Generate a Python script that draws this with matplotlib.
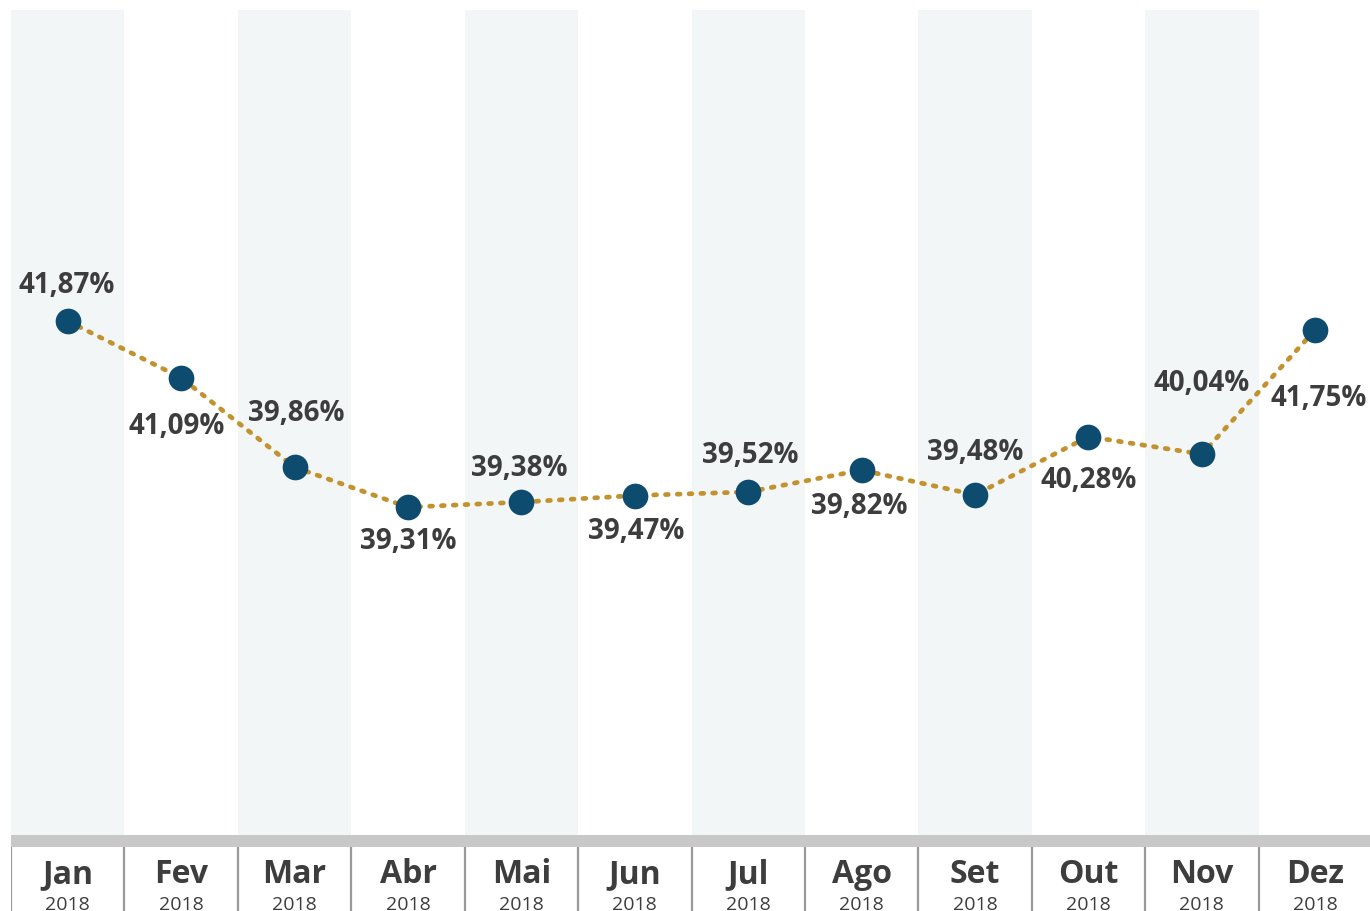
import numpy as np
import matplotlib.pyplot as plt

# Monthly values (%), 2018
months = ['Jan', 'Fev', 'Mar', 'Abr', 'Mai', 'Jun', 'Jul', 'Ago', 'Set', 'Out', 'Nov', 'Dez']
years = ['2018'] * 12
values = [41.87, 41.09, 39.86, 39.31, 39.38, 39.47, 39.52, 39.82, 39.48, 40.28, 40.04, 41.75]

# label offsets in pixels (dx, dy) relative to the point
offsets = [(-1, 37), (-4, -48), (2, 55), (0, -33), (-2, 35), (1, -35),
           (2, 37), (-2, -35), (0, 43), (0, -43), (0, 72), (3, -68)]

W, H = 1370, 912
fig = plt.figure(figsize=(W / 100, H / 100), dpi=100)
fig.patch.set_facecolor('white')

x0, x1 = 11, 1372
ax = fig.add_axes([x0 / W, (H - 836) / H, (x1 - x0) / W, 825 / H])
x = np.arange(len(months))

for i in range(0, len(months), 2):
    ax.axvspan(i - 0.5, i + 0.5, color='#f2f6f7', zorder=0, lw=0)

ax.plot(x, values, color='#c3922e', lw=3.4, linestyle=(0, (0.6, 1.9)),
        dash_capstyle='round', zorder=2)
ax.plot(x, values, 'o', color='#0e4c6f', markersize=18.5, zorder=3, mec='none')

for xi, v, (dx, dy) in zip(x, values, offsets):
    ax.annotate(f'{v:.2f}%'.replace('.', ','), (xi, v), xytext=(dx * 0.72, dy * 0.72),
                textcoords='offset points', ha='center', va='center',
                fontsize=20, fontweight='bold', color='#3d3d3d',
                family='Open Sans', zorder=4)

ax.set_xlim(-0.5, 11.5)
ax.set_ylim(34.8, 46.15)
ax.axis('off')

# grey strip under plot area
bar = fig.add_axes([x0 / W, (H - 848) / H, (x1 - x0) / W, 12 / H])
bar.set_facecolor('#c8c8c8')
bar.set_xticks([])
bar.set_yticks([])
for s in bar.spines.values():
    s.set_visible(False)

# month labels strip
lab = fig.add_axes([x0 / W, 0, (x1 - x0) / W, (H - 848) / H])
lab.set_xlim(-0.5, 11.5)
lab.set_ylim(0, 64)
lab.axis('off')
for b in np.arange(-0.5, 12, 1):
    lab.axvline(b, color='#9a9a9a', lw=1.6)
for xi, m, yr in zip(x, months, years):
    lab.text(xi, 37, m, ha='center', va='center', fontsize=23, fontweight='bold',
             color='#3d3d3d', family='Open Sans')
    lab.text(xi, 7, yr, ha='center', va='center', fontsize=14, color='#3d3d3d',
             family='Open Sans')

fig.savefig('out.png', dpi=100)
